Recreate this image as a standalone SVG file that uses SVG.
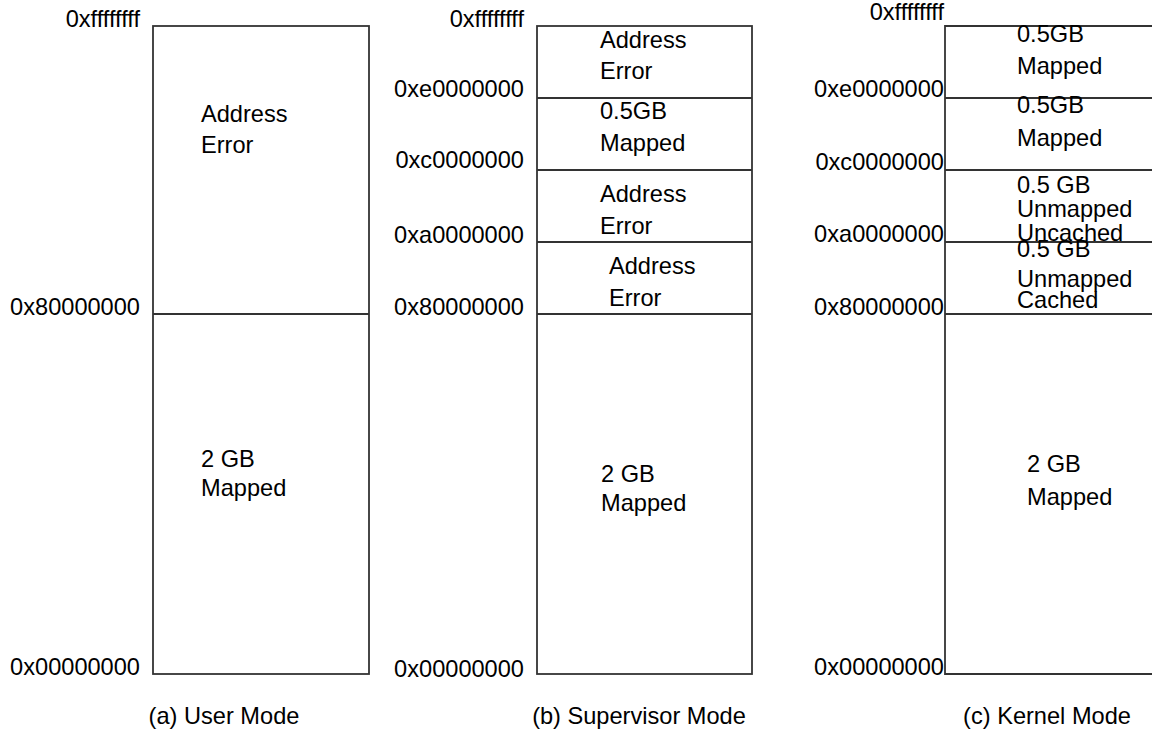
<svg xmlns="http://www.w3.org/2000/svg" width="1152" height="732" viewBox="0 0 1152 732">
<style>
text{font-family:"Liberation Sans",Arial,sans-serif;font-size:23.6px;fill:#000}
.r{text-anchor:end}
.m{text-anchor:middle}
.box{fill:none;stroke:#333;stroke-width:1.8}
</style>
<rect width="1152" height="732" fill="#fff"/>
<g id="connectors">
<line class="box" x1="153" y1="314" x2="369" y2="314"/>
<line class="box" x1="537" y1="98" x2="752" y2="98"/>
<line class="box" x1="537" y1="170" x2="752" y2="170"/>
<line class="box" x1="537" y1="242" x2="752" y2="242"/>
<line class="box" x1="537" y1="314" x2="752" y2="314"/>
<line class="box" x1="945" y1="98" x2="1160" y2="98"/>
<line class="box" x1="945" y1="170" x2="1160" y2="170"/>
<line class="box" x1="945" y1="242" x2="1160" y2="242"/>
<line class="box" x1="945" y1="314" x2="1160" y2="314"/>
</g>
<g id="user-mode">
<rect class="box" x="153" y="26" width="216" height="648"/>
<text class="r" x="140" y="27">0xffffffff</text>
<text class="r" x="140" y="315">0x80000000</text>
<text class="r" x="140" y="675">0x00000000</text>
<text x="201" y="122">Address</text>
<text x="201" y="153">Error</text>
<text x="201" y="467">2 GB</text>
<text x="201" y="496">Mapped</text>
<text class="m" x="224" y="724">(a) User Mode</text>
</g>
<g id="supervisor-mode">
<rect class="box" x="537" y="26" width="215" height="648"/>
<text class="r" x="524" y="27">0xffffffff</text>
<text class="r" x="524" y="97">0xe0000000</text>
<text class="r" x="524" y="168">0xc0000000</text>
<text class="r" x="524" y="243">0xa0000000</text>
<text class="r" x="524" y="315">0x80000000</text>
<text class="r" x="524" y="677">0x00000000</text>
<text x="600" y="48">Address</text>
<text x="600" y="79">Error</text>
<text x="600" y="119">0.5GB</text>
<text x="600" y="151">Mapped</text>
<text x="600" y="202">Address</text>
<text x="600" y="234">Error</text>
<text x="609" y="274">Address</text>
<text x="609" y="306">Error</text>
<text x="601" y="482">2 GB</text>
<text x="601" y="511">Mapped</text>
<text class="m" x="639" y="724">(b) Supervisor Mode</text>
</g>
<g id="kernel-mode">
<polyline class="box" points="1160,26 945,26 945,674 1160,674"/>
<text class="r" x="944" y="20">0xffffffff</text>
<text class="r" x="944" y="97">0xe0000000</text>
<text class="r" x="944" y="170">0xc0000000</text>
<text class="r" x="944" y="242">0xa0000000</text>
<text class="r" x="944" y="315">0x80000000</text>
<text class="r" x="944" y="675">0x00000000</text>
<text x="1017" y="42">0.5GB</text>
<text x="1017" y="74">Mapped</text>
<text x="1017" y="113">0.5GB</text>
<text x="1017" y="146">Mapped</text>
<text x="1017" y="193">0.5 GB</text>
<text x="1017" y="217">Unmapped</text>
<text x="1017" y="241">Uncached</text>
<text x="1017" y="257">0.5 GB</text>
<text x="1017" y="287">Unmapped</text>
<text x="1017" y="308">Cached</text>
<text x="1027" y="472">2 GB</text>
<text x="1027" y="505">Mapped</text>
<text class="m" x="1047" y="724">(c) Kernel Mode</text>
</g>
</svg>
